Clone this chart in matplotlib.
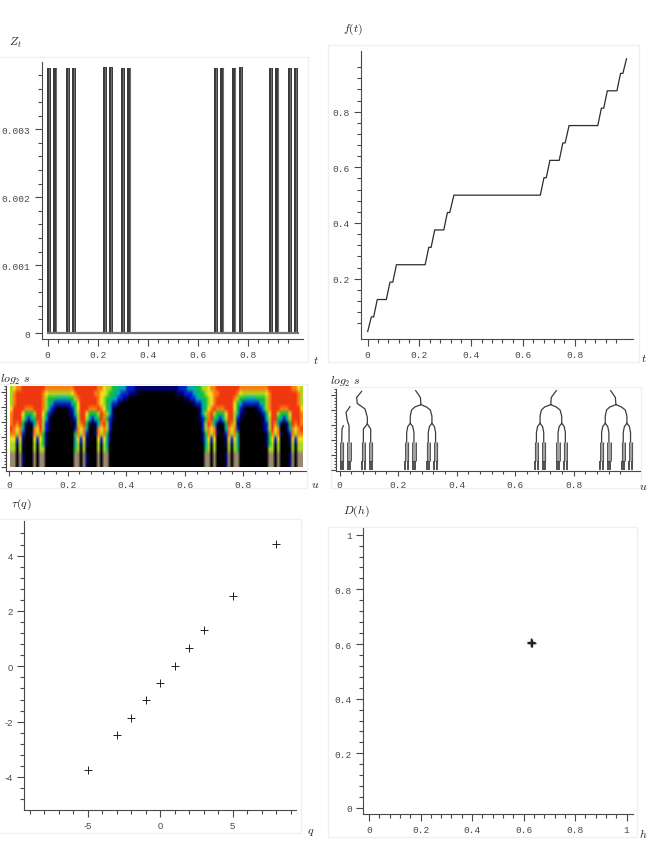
import numpy as np
import matplotlib
matplotlib.use('Agg')
import matplotlib.pyplot as plt
from matplotlib.colors import ListedColormap
from matplotlib.patches import Rectangle

W, H = 648, 862

# Z_t bars (left and right edge of each block)
bar_left = [-0.003, 0.023, 0.072, 0.097, 0.220, 0.245, 0.293, 0.319,
            0.665, 0.691, 0.739, 0.764, 0.885, 0.911, 0.960, 0.985]
bar_right = [0.013, 0.039, 0.088, 0.113, 0.237, 0.261, 0.309, 0.335,
             0.681, 0.707, 0.755, 0.780, 0.901, 0.927, 0.976, 1.001]
bar_height = [0.0039, 0.0039, 0.0039, 0.0039, 0.00392, 0.00392, 0.0039, 0.0039,
              0.0039, 0.0039, 0.0039, 0.00392, 0.0039, 0.0039, 0.0039, 0.0039]

# f(t) staircase
stair_t = [0, 0.014, 0.023, 0.037, 0.072, 0.086, 0.097, 0.111, 0.222, 0.236, 0.245,
           0.259, 0.294, 0.308, 0.317, 0.333, 0.667, 0.681, 0.690, 0.704, 0.740,
           0.754, 0.763, 0.778, 0.889, 0.903, 0.912, 0.926, 0.963, 0.977, 0.986, 1.0]
stair_f = [0.01, 0.0625, 0.0625, 0.125, 0.125, 0.1875, 0.1875, 0.25, 0.25, 0.3125, 0.3125,
           0.375, 0.375, 0.4375, 0.4375, 0.5, 0.5, 0.5625, 0.5625, 0.625, 0.625,
           0.6875, 0.6875, 0.75, 0.75, 0.8125, 0.8125, 0.875, 0.875, 0.9375, 0.9375, 0.99]

# wavelet transform: 16 scales, u = 0 .. 0.5 in steps of 0.01
# (right half is the mirror image). digit = colour class in heat_colors
heat_rows = [
    "56778 88888 88777 7777777 88888 88877 65544 33322 211111111",
    "57888 88888 87655 5555556 78888 88776 65443 32221 110000000",
    "57888 88888 87544 4333344 57888 88876 54433 22110 000000000",
    "57888 88888 87543 2222223 46888 88876 54322 10000 000000000",
    "68888 77788 87532 1000012 46888 77787 64310 00000 000000000",
    "78886 44458 86421 0000011 35886 44458 75310 00000 000000000",
    "78885 32348 85310 0000001 25885 32348 74210 00000 000000000",
    "78784 10137 85210 0000000 15784 10137 85200 00000 000000000",
    "87673 10076 85210 0000000 27673 00176 75200 00000 000000000",
    "77572 00175 74100 0000000 47572 00175 74100 00000 000000000",
    "66261 00062 64100 0000000 36261 00062 63100 00000 000000000",
    "55151 00051 54100 0000000 35151 00051 53000 00000 000000000",
    "55050 00050 55000 0000000 45050 00050 54000 00000 000000000",
    "99091 00090 99000 0000000 99091 00090 99000 00000 000000000",
    "99091 00090 99000 0000000 99091 00090 99000 00000 000000000",
    "99091 00090 99000 0000000 99091 00090 99000 00000 000000000",
]
heat_colors = ['#000000', '#000068', '#0020d0', '#00a8b0', '#10c040',
               '#a8d820', '#f4e020', '#f88010', '#f03810', '#9a8870']

# maxima tree: first leaf of every group, leaf offsets and branches relative to it
group_start = [0.007, 0.229, 0.673, 0.896]
leaf_t = [0.007, 0.032, 0.081, 0.106, 0.229, 0.254, 0.303, 0.328,
          0.673, 0.698, 0.747, 0.772, 0.896, 0.921, 0.970, 0.995]
arch_left_dt = [0.0125, 0.004, 0.0, 0.0]
arch_right_dt = [0.0125, 0.021, 0.025, 0.025]
arch_y = [3.11, 2.9, 2.5, 1.84]
top_left_dt = [0.049, 0.028, 0.017, 0.0125, 0.0125]
top_right_dt = [0.049, 0.068, 0.081, 0.0865, 0.0865]
top_y = [4.36, 4.2, 4.0, 3.6, 3.11]
stem_dt = [0.031, 0.047, 0.049]
stem_dt_mirror = [0.068, 0.051, 0.049]
stem_y = [5.29, 4.84, 4.36]
# the first group is broken, its branches are listed on their own
stray_lines = [
    ([0.075, 0.058, 0.060, 0.0866, 0.0946, 0.0946], [5.24, 4.84, 4.44, 4.07, 3.51, 3.07]),
    ([0.0946, 0.081, 0.081], [3.07, 2.73, 1.84]),
    ([0.0946, 0.106, 0.106], [3.07, 2.73, 1.84]),
    ([0.035, 0.0216, 0.0262, 0.032, 0.032], [4.22, 3.84, 3.29, 2.95, 1.84]),
    ([0.0123, 0.0079, 0.0068], [2.95, 2.73, 1.84]),
]

# tau(q) and D(h)
q = [-5, -3, -2, -1, 0, 1, 2, 3, 5, 8]
tau = [-3.75, -2.47, -1.855, -1.2, -0.59, 0.025, 0.65, 1.3, 2.53, 4.42]
h = [0.628, 0.632, 0.630]
D = [0.605, 0.605, 0.607]

x_labels = ['0', '0.2', '0.4', '0.6', '0.8']
x_ticks = [0, 0.2, 0.4, 0.6, 0.8]

plt.rcParams['mathtext.fontset'] = 'cm'
MONO = 'Liberation Mono'
AXIS = '#484848'
TEXT = '#484848'

fig = plt.figure(figsize=(W / 100, H / 100), dpi=100, facecolor='white')


def box(x0, y0, x1, y1):
    # the faint frame around every panel
    fig.add_artist(Rectangle((x0 / W, 1 - y1 / H), (x1 - x0) / W, (y1 - y0) / H,
                             transform=fig.transFigure, fc='white', ec='#f0f0f0', lw=1, zorder=-5))


def panel(left, right, top, bottom, x0, xs, y0, ys, long_tick=5, short_tick=2.9):
    # pixel frame plus pixel position of the origin and pixels per unit
    ax = fig.add_axes([left / W, 1 - bottom / H, (right - left) / W, (bottom - top) / H])
    ax.patch.set_visible(False)
    ax.set_xlim((left - x0) / xs, (right - x0) / xs)
    ax.set_ylim((y0 - bottom) / ys, (y0 - top) / ys)
    for s in ['top', 'right']:
        ax.spines[s].set_visible(False)
    for s in ['left', 'bottom']:
        ax.spines[s].set_color(AXIS)
        ax.spines[s].set_linewidth(0.8)
    ax.tick_params(which='major', length=long_tick, width=0.8, color=AXIS, pad=3, labelsize=6.8, labelcolor=TEXT)
    ax.tick_params(which='minor', length=short_tick, width=0.8, color=AXIS)
    return ax


def ticks(ax, xt, xl, xm, yt, yl, ym, family=MONO):
    ax.set_xticks(xt, xl, family=family)
    ax.set_yticks(yt, yl, family=family)
    ax.set_xticks(xm, minor=True)
    ax.set_yticks(ym, minor=True)


def label(s, x, y):
    fig.text(x / W, 1 - y / H, s, fontsize=8.5, ha='center', va='center', color='#222222')


x_minor = np.arange(0, 0.97, 0.04)

# Z_t
box(-2, 58, 308, 363)
ax1 = panel(41.7, 303, 63, 340, 47.7, 250, 334, 67900)
widths = [r - l for l, r in zip(bar_left, bar_right)]
ax1.bar(bar_left, bar_height, widths, align='edge', color='#3a3a3a')
ax1.vlines([l + w * 0.6 for l, w in zip(bar_left, widths)], 0, bar_height, color='#6e6e6e', lw=0.8)
ax1.plot([0, 1], [0, 0], color='#777777', lw=1.6)
ticks(ax1, x_ticks, x_labels, x_minor, [0, 0.001, 0.002, 0.003], ['0', '0.001', '0.002', '0.003'],
      np.arange(0, 0.00385, 0.0002))

# f(t)
box(328, 46, 639, 363)
ax2 = panel(361, 633.3, 52, 340, 367.7, 258.8, 335.3, 278.3)
ax2.plot(stair_t, stair_f, color='#2c2c2c', lw=0.9)
ticks(ax2, x_ticks, x_labels, x_minor, [0.2, 0.4, 0.6, 0.8], ['0.2', '0.4', '0.6', '0.8'],
      np.arange(0.04, 0.97, 0.04))

# wavelet transform
box(-2, 385, 307, 489)
ax3 = panel(6, 306, 387, 471.7, 9, 293, 468, 15, long_tick=3.6, short_tick=1.8)
half = np.array([[int(c) for c in row.replace(' ', '')] for row in heat_rows])
levels = np.hstack([half, half[:, -2::-1]])
ax3.imshow(levels, cmap=ListedColormap(heat_colors), vmin=-0.5, vmax=9.5, aspect='auto',
           extent=(0.003, 1.0, 0, 5.4), interpolation='bilinear', interpolation_stage='rgba')
ax3.set_xlim((6 - 9) / 293, (306 - 9) / 293)
ax3.set_ylim((468 - 471.7) / 15, (468 - 387) / 15)
ticks(ax3, x_ticks, x_labels, x_minor, np.arange(0, 5.5, 1), [], np.arange(0, 5.5, 0.2))

# maxima tree
box(331, 388, 641, 489)
ax4 = panel(336.3, 640, 390, 471.7, 339.7, 292.3, 471, 15, long_tick=3.6, short_tick=1.8)
tree_style = dict(color='#3c3c3c', lw=0.9)
for g, start in enumerate(group_start):
    if g > 0:
        stem = stem_dt_mirror if g == 2 else stem_dt
        ax4.plot([start + d for d in stem], stem_y, **tree_style)
        ax4.plot([start + d for d in top_left_dt], top_y, **tree_style)
        ax4.plot([start + d for d in top_right_dt], top_y, **tree_style)
        ax4.plot([start + d for d in arch_left_dt], arch_y, **tree_style)
        ax4.plot([start + d for d in arch_right_dt], arch_y, **tree_style)
        ax4.plot([start + 0.074 + d for d in arch_left_dt], arch_y, **tree_style)
        ax4.plot([start + 0.074 + d for d in arch_right_dt], arch_y, **tree_style)
for xs_, ys_ in stray_lines:
    ax4.plot(xs_, ys_, **tree_style)
for t in leaf_t:
    ax4.vlines(t, 0.62, 1.84, color='#a0a0a0', lw=2.4)
    ax4.vlines([t - 0.0055, t + 0.0055], 0.62, 1.84, color='#555555', lw=0.7)
    ax4.vlines([t - 0.004, t + 0.004], 0, 0.62, color='#222222', lw=1.1)
ticks(ax4, x_ticks, x_labels, x_minor, np.arange(0, 5.5, 1), [], np.arange(0, 5.5, 0.2))

# tau(q)
box(-2, 520, 301, 834)
ax5 = panel(23.7, 296.3, 522.3, 811.3, 160, 14.5, 667.3, 27.67)
ax5.plot(q, tau, ls='none', marker='+', ms=6.4, mew=0.7, color='#222222')
ticks(ax5, [-5, 0, 5], ['-5', '0', '5'], np.arange(-9, 10, 1), [-4, -2, 0, 2, 4], ['-4', '-2', '0', '2', '4'],
      np.arange(-4.8, 4.9, 0.4), family='Liberation Sans')

# D(h)
box(328, 528, 637, 838)
ax6 = panel(363, 633, 529.3, 815.3, 369, 257.7, 809, 273.3)
ax6.plot(h, D, ls='none', marker='+', ms=6.4, mew=1.0, color='#222222')
ticks(ax6, x_ticks + [1], x_labels + ['1'], np.arange(0, 1.01, 0.04), [0, 0.2, 0.4, 0.6, 0.8, 1],
      ['0', '0.2', '0.4', '0.6', '0.8', '1'], np.arange(0, 1.01, 0.04))

label(r'$Z_t$', 15, 43)
label(r'$t$', 316, 360)
label(r'$f(t)$', 353, 29)
label(r'$t$', 644, 359)
label(r'$log_2\ s$', 15, 380)
label(r'$u$', 315, 485)
label(r'$log_2\ s$', 345, 382)
label(r'$u$', 643, 487)
label(r'$\tau(q)$', 21, 504)
label(r'$q$', 311, 832)
label(r'$D(h)$', 356, 511)
label(r'$h$', 643, 835)

fig.savefig('out.png', dpi=100)
